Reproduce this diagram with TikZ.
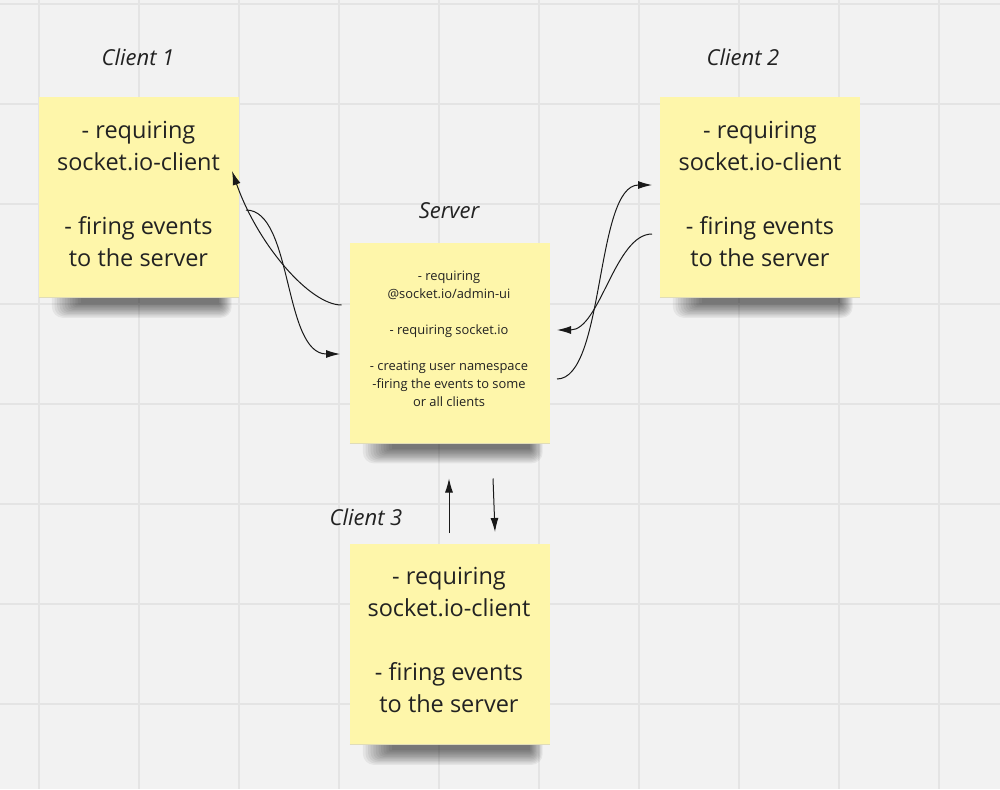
\documentclass[tikz,border=0pt]{standalone}
\usepackage{fontspec}
\setmainfont{Open Sans}
\usetikzlibrary{arrows.meta,calc}
\definecolor{bg}{HTML}{F2F2F2}
\definecolor{gridc}{HTML}{E4E4E4}
\definecolor{notey}{HTML}{FEF6AA}
\definecolor{txt}{HTML}{222222}
\tikzset{
  notebox/.style={draw=none, minimum width=200pt, minimum height=201pt, inner sep=0pt, outer sep=0pt},
  bigtext/.style={text=txt, align=center, font=\fontsize{23.5}{32}\selectfont, inner sep=0pt},
  smalltext/.style={text=txt, align=center, font=\fontsize{12.9}{18}\selectfont, inner sep=0pt},
  titletext/.style={text=txt, font=\fontsize{22}{26}\selectfont\itshape, inner sep=0pt},
  conn/.style={draw=black!90, line width=1pt, -{Latex[length=14pt,width=8pt]}},
  gridline/.style={draw=gridc, line width=1.5pt},
}
\newcommand\mynoteshadow[1]{%
  \foreach \i in {0,...,11}{
    \fill[black, opacity=0.055, rounded corners=\i pt]
      ($(#1.south west)+(42-2.6*\i,-12)$) rectangle ($(#1.south east)+(-20+1.2*\i,5+1.35*\i)$);
  }%
  \fill[notey] (#1.south west) rectangle (#1.north east);
  \draw[notey!80!black!60, line width=0.8pt] ($(#1.south west)+(0,-0.4)$) -- ($(#1.south east)+(0,-0.4)$);
}
\begin{document}
\begin{tikzpicture}[x=1pt,y=-1pt]
\useasboundingbox (0,0) rectangle (1000,789);
\fill[bg] (0,0) rectangle (1000,789);
\foreach \gx in {39,139,...,939} \draw[gridline] (\gx,0) -- (\gx,789);
\foreach \gy in {4,104,...,704} \draw[gridline] (0,\gy) -- (1000,\gy);

% notes
\node[notebox] (c1) at (138.5,197.5) {};
\node[notebox] (c2) at (759.5,197.5) {};
\node[notebox] (srv) at (449.5,343) {};
\node[notebox] (c3) at (449.5,644.5) {};
\mynoteshadow{c1}
\mynoteshadow{c2}
\mynoteshadow{srv}
\mynoteshadow{c3}

% titles
\node[titletext] (t1) at (138,57) {Client 1};
\node[titletext] (t2) at (743,57) {Client 2};
\node[titletext] (ts) at (449,211) {Server};
\node[titletext] (t3) at (366,517) {Client 3};

% texts
\node[bigtext] (c1t) at (138.5,194) {- requiring\\socket.io-client\\[32pt]- firing events\\to the server};
\node[bigtext] (c2t) at (760,194) {- requiring\\socket.io-client\\[32pt]- firing events\\to the server};
\node[bigtext] (c3t) at (449,640) {- requiring\\socket.io-client\\[32pt]- firing events\\to the server};
\node[smalltext] (srvt) at (449,339) {- requiring\\@socket.io/admin-ui\\[18pt]- requiring socket.io\\[18pt]- creating user namespace\\-firing the events to some\\or all clients};

% connector end points
\coordinate (a1s) at ($(srv.west)+(-8,-38)$);
\coordinate (a1e) at ($(c1.east)+(-6.5,-26.5)$);
\coordinate (a2s) at ($(c1.east)+(7.5,12.5)$);
\coordinate (a2e) at ($(srv.west)+(-9.5,11)$);
\coordinate (a3s) at ($(srv.east)+(7.5,36)$);
\coordinate (a3e) at ($(c2.west)+(-7.5,-12.5)$);
\coordinate (a4s) at ($(c2.west)+(-7.5,36.5)$);
\coordinate (a4e) at ($(srv.east)+(7.5,-13)$);
\coordinate (a5s) at ($(c3.north)+(-0.5,-11)$);
\coordinate (a5e) at ($(srv.south)+(-0.5,35)$);
\coordinate (a6s) at ($(srv.south)+(43.5,35)$);
\coordinate (a6e) at ($(c3.north)+(45.5,-12)$);

\draw[conn] (a1s) .. controls (310,305) and (258,245) .. (a1e);
\draw[conn] (a2s) .. controls (293,210) and (283,354) .. (a2e);
\draw[conn] (a3s) .. controls (605,379) and (595,185) .. (a3e);
\draw[conn] (a4s) .. controls (615,234) and (600,330) .. (a4e);
\draw[conn] (a5s) -- (a5e);
\draw[conn] (a6s) -- (a6e);
\end{tikzpicture}
\end{document}
